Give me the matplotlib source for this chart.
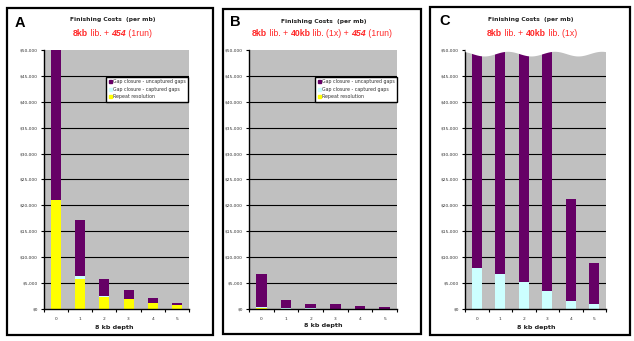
import numpy as np
import matplotlib.pyplot as plt
from matplotlib.patches import Patch, Rectangle

W, H = 634, 341

depth = ["0", "1", "2", "3", "4", "5"]

# panel A: 8kb lib. + 454 (1run)
a_repeat = [21000, 5800, 2400, 1850, 1100, 700]
a_captured = [0, 500, 150, 150, 100, 100]
a_uncaptured = [29000, 10800, 3250, 1700, 1000, 400]

# panel B: 8kb lib. + 40kb lib. (1x) + 454 (1run)
b_repeat = [100, 80, 50, 0, 0, 0]
b_captured = [250, 120, 80, 50, 30, 20]
b_uncaptured = [6350, 1500, 870, 950, 570, 380]

# panel C: 8kb lib. + 40kb lib. (1x)
c_repeat = [0, 0, 0, 0, 0, 0]
c_captured = [7900, 6700, 5200, 3500, 1500, 1000]
c_uncaptured = [42100, 43300, 44800, 46500, 19700, 7800]

yticks = np.arange(0, 50001, 5000)
ytick_labels = ["$0"] + ["${:,}".format(v) for v in yticks[1:]]

purple = "#660066"
cyan = "#CCFFFF"
yellow = "#FFFF00"
red = "#FF2A2A"
legend_labels = ["Gap closure - uncaptured gaps", "Gap closure - captured gaps", "Repeat resolution"]

fig = plt.figure(figsize=(W / 100, H / 100), dpi=100)
fig.patch.set_facecolor("white")


def fx(x):
    return x / W


def fy(y):
    return 1 - y / H


def border(x0, y0, x1, y1):
    fig.add_artist(Rectangle((fx(x0), fy(y1)), fx(x1) - fx(x0), fy(y0) - fy(y1),
                             transform=fig.transFigure, fill=False, ec="black", lw=1.6))


def rich_text(xc, y, pieces, size=6.3):
    # pieces: list of (text, weight, style); laid out left to right, centred on xc
    r = fig.canvas.get_renderer()
    arts = []
    for s, wgt, sty in pieces:
        t = fig.text(0, fy(y), s, color=red, fontsize=size, fontweight=wgt,
                     fontstyle=sty, va="center", ha="left", family="Liberation Sans")
        arts.append(t)
    widths = [t.get_window_extent(r).width for t in arts]
    x = xc - sum(widths) / 2
    for t, w in zip(arts, widths):
        t.set_x(fx(x))
        x += w


def panel(box, letter, letter_xy, title_xy, sub_xy, sub, xlab_xy,
          rep, cap, unc, legend_xy=None, wave=False):
    x0, y0, x1, y1 = box
    ax = fig.add_axes([fx(x0), fy(y1), fx(x1) - fx(x0), fy(y0) - fy(y1)])
    ax.set_facecolor("#C0C0C0")
    x = np.arange(len(depth))
    rep = np.array(rep)
    cap = np.array(cap)
    unc = np.array(unc)
    ax.bar(x, rep, width=0.42, color=yellow, zorder=3)
    ax.bar(x, cap, width=0.42, bottom=rep, color=cyan, zorder=3)
    ax.bar(x, unc, width=0.42, bottom=rep + cap, color=purple, zorder=3)
    ax.set_xlim(-0.5, 5.5)
    ax.set_ylim(0, 50000)
    ax.set_yticks(yticks)
    ax.set_yticklabels(ytick_labels)
    ax.set_xticks(x)
    ax.set_xticklabels(depth)
    ax.set_xticks(np.arange(-0.5, 6, 1), minor=True)
    ax.tick_params(axis="x", which="major", length=0, labelsize=3.2, colors="#333333", pad=6)
    ax.tick_params(axis="x", which="minor", length=2.5, width=0.8, direction="out")
    ax.tick_params(axis="y", length=2.5, width=0.8, labelsize=3.2, labelcolor="#333333", pad=2)
    for v in yticks[1:-1]:
        ax.axhline(v, color="black", lw=0.8, zorder=2)
    for s in ["top", "right"]:
        ax.spines[s].set_visible(False)
    for s in ["left", "bottom"]:
        ax.spines[s].set_linewidth(1.0)
        ax.spines[s].set_zorder(4)
    if wave:
        xs = np.linspace(-0.5, 5.5, 300)
        low = 49300 + 450 * np.cos(2 * np.pi * (xs + 0.5) / 2.0 + 0.6)
        ax.fill_between(xs, low, 51500, color="white", zorder=5, clip_on=False, lw=0)
    if legend_xy is not None:
        handles = [Patch(color=c) for c in (purple, cyan, yellow)]
        leg = ax.legend(handles, legend_labels, loc="upper right", bbox_to_anchor=legend_xy,
                        fontsize=3.4, frameon=True, fancybox=False, framealpha=1,
                        edgecolor="black", handlelength=0.7, handleheight=0.7,
                        handletextpad=0.2, borderpad=0.5, labelspacing=0.55,
                        borderaxespad=0)
        leg.get_frame().set_linewidth(1.0)
        for t in leg.get_texts():
            t.set_color("#333333")
        leg.set_zorder(6)
    fig.text(fx(letter_xy[0]), fy(letter_xy[1]), letter, fontsize=10.5, fontweight="bold",
             ha="center", va="center", family="Liberation Sans")
    fig.text(fx(title_xy[0]), fy(title_xy[1]), "Finishing Costs  (per mb)", fontsize=4.3,
             fontweight="bold", ha="center", va="center", color="#222222")
    rich_text(sub_xy[0], sub_xy[1], sub)
    fig.text(fx(xlab_xy[0]), fy(xlab_xy[1]), "8 kb depth", fontsize=4.6,
             fontweight="bold", ha="center", va="center", color="#222222")
    return ax


border(7, 8, 213, 335)
border(223, 9, 421, 334)
border(430, 7, 630, 335)

N, B, BI = "normal", "bold", "italic"
panel((44, 50, 189, 309), "A", (20, 23), (113, 20), (112, 33),
      [("8kb", B, N), (" lib. + ", N, N), ("454", B, BI), (" (1run)", N, N)],
      (114, 327), a_repeat, a_captured, a_uncaptured, legend_xy=(0.993, 0.896))
panel((249, 50, 397, 309), "B", (235, 22), (324, 21), (322, 33),
      [("8kb", B, N), (" lib. + ", N, N), ("40kb", B, N), (" lib. (1x) + ", N, N),
       ("454", B, BI), (" (1run)", N, N)],
      (323, 326), b_repeat, b_captured, b_uncaptured, legend_xy=(1.0, 0.896))
panel((465, 50, 606, 309), "C", (445, 21), (531, 19), (532, 33),
      [("8kb", B, N), (" lib. + ", N, N), ("40kb", B, N), (" lib. (1x)", N, N)],
      (536, 328), c_repeat, c_captured, c_uncaptured, wave=True)

fig.savefig("out.png", dpi=100)
